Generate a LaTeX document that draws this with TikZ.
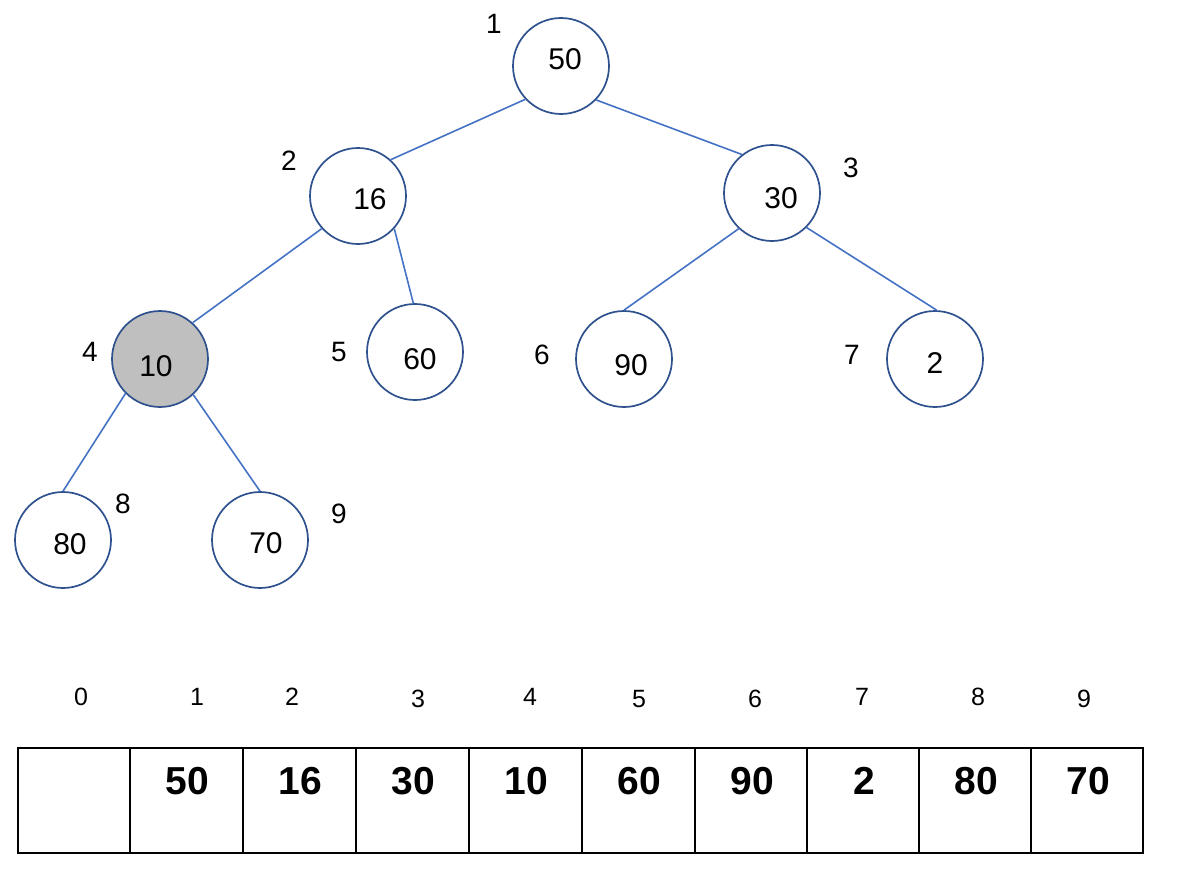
\documentclass[tikz,border=0pt]{standalone}
\usepackage{fontspec}
\setmainfont{Liberation Sans}
\definecolor{circ}{HTML}{2F528F}
\definecolor{edgec}{HTML}{4472C4}
\definecolor{fillg}{HTML}{BFBFBF}
\begin{document}
\begin{tikzpicture}[x=1pt,y=-1pt,
 vert/.style={circle,draw=circ,line width=1.7pt,minimum size=96pt,inner sep=0pt},
 val/.style={font=\fontsize{30}{34}\selectfont,inner sep=0pt},
 idx/.style={font=\fontsize{28}{32}\selectfont,inner sep=0pt},
 edg/.style={draw=edgec,line width=1.6pt},
 cell/.style={draw=black,line width=2pt,minimum height=105pt,inner sep=0pt},
 tval/.style={font=\bfseries\fontsize{39}{44}\selectfont,inner sep=0pt},
 tidx/.style={font=\fontsize{25}{30}\selectfont,inner sep=0pt}]
\useasboundingbox (0,0) rectangle (1200,875);
% tree nodes
\node[vert] (c1) at (561,66) {};
\node[vert] (c2) at (358,196) {};
\node[vert] (c3) at (772,193) {};
\node[vert,fill=fillg] (c4) at (160,359) {};
\node[vert] (c5) at (415,352) {};
\node[vert] (c6) at (624,359) {};
\node[vert] (c7) at (935,359) {};
\node[vert] (c8) at (63,540) {};
\node[vert] (c9) at (260,540) {};
% values
\node[val] (v1) at (565,59) {50};
\node[val] (v2) at (370,199) {16};
\node[val] (v3) at (781,198) {30};
\node[val] (v4) at (156,366) {10};
\node[val] (v5) at (420,359) {60};
\node[val] (v6) at (631,365) {90};
\node[val] (v7) at (935,363) {2};
\node[val] (v8) at (70,544) {80};
\node[val] (v9) at (266,543) {70};
% index labels
\node[idx] (i1) at (494,24) {1};
\node[idx] (i2) at (289,161) {2};
\node[idx] (i3) at (851,168) {3};
\node[idx] (i4) at (90,352) {4};
\node[idx] (i5) at (339,352) {5};
\node[idx] (i6) at (542,355) {6};
\node[idx] (i7) at (852,355) {7};
\node[idx] (i8) at (123,504) {8};
\node[idx] (i9) at (339,514) {9};
% edges
\draw[edg] (c1.223) -- (c2.48);
\draw[edg] (c1.316) -- (c3.128);
\draw[edg] (c2.222) -- (c4.48);
\draw[edg] (c2.318) -- (c5.92);
\draw[edg] (c3.227) -- (c6.90);
\draw[edg] (c3.315) -- (c7.88);
\draw[edg] (c4.225) -- (c8.90);
\draw[edg] (c4.313) -- (c9.90);
% array
\foreach \i/\xa/\xb/\v in {0/18/130/,1/130/243/50,2/243/356/16,3/356/469/30,4/469/582/10,5/582/695/60,6/695/807/90,7/807/919/2,8/919/1031/80,9/1031/1143/70}{
  \node[cell,minimum width={(\xb-\xa)*1pt}] (t\i) at ({(\xa+\xb)/2},800.5) {};
  \node[tval] (tv\i) at ({(\xa+\xb)/2+1},781) {\v};
}
\node[tidx] (a0) at (81,697) {0};
\node[tidx] (a1) at (197,697) {1};
\node[tidx] (a2) at (292,697) {2};
\node[tidx] (a3) at (418,699) {3};
\node[tidx] (a4) at (530,697) {4};
\node[tidx] (a5) at (639,699) {5};
\node[tidx] (a6) at (755,699) {6};
\node[tidx] (a7) at (862,697) {7};
\node[tidx] (a8) at (978,697) {8};
\node[tidx] (a9) at (1084,699) {9};
\end{tikzpicture}
\end{document}
